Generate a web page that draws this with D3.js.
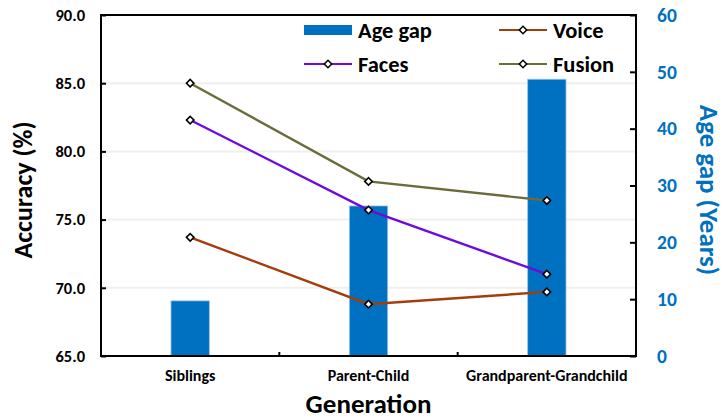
<!DOCTYPE html>
<html lang="en">
<head>
  <meta charset="UTF-8" />
  <title>Accuracy and age gap by generation</title>
  <script src="https://d3js.org/d3.v7.min.js"></script>
  <style>
    body {
      margin: 0;
      padding: 0;
      background: #fff;
      font-family: Calibri, Carlito, Lato, sans-serif;
    }
    svg text {
      font-weight: bold;
      font-family: Calibri, Carlito, Lato, sans-serif;
    }
  </style>
</head>
<body>
  <div id="chart"></div>

  <script>
    const generations = ["Siblings", "Parent-Child", "Grandparent-Grandchild"];
    const ageGap = [9.7, 26.4, 48.7];
    const voice = [73.7, 68.8, 69.7];
    const faces = [82.3, 75.7, 71.0];
    const fusion = [85.0, 77.8, 76.4];
    const accTicks = [65, 70, 75, 80, 85, 90];
    const gapTicks = [0, 10, 20, 30, 40, 50, 60];

    const lineSeries = [
      { name: "Voice", values: voice, color: "#A33E0A" },
      { name: "Faces", values: faces, color: "#6F0AD8" },
      { name: "Fusion", values: fusion, color: "#6B6B3B" },
    ];

    const W = 727, H = 420;
    const margin = { top: 15, right: 91, bottom: 64, left: 101 };
    const width = W - margin.left - margin.right;
    const height = H - margin.top - margin.bottom;
    const blue = "#0070C0";

    const svg = d3
      .select("#chart")
      .append("svg")
      .attr("width", W)
      .attr("height", H);

    const g = svg.append("g").attr("transform", `translate(${margin.left},${margin.top})`);

    const x = d3.scaleBand().domain(generations).range([0, width]);
    const y = d3.scaleLinear().domain([65, 90]).range([height, 0]);
    const y2 = d3.scaleLinear().domain([0, 60]).range([height, 0]);

    // grid lines
    g.append("g")
      .selectAll("line")
      .data(accTicks.filter((t) => t > 65 && t < 90))
      .enter()
      .append("line")
      .attr("x1", 1)
      .attr("x2", width)
      .attr("y1", (d) => y(d))
      .attr("y2", (d) => y(d))
      .attr("stroke", "#EFEFEF")
      .attr("stroke-width", 2);

    // legend background covers grid
    g.append("rect")
      .attr("x", 2)
      .attr("y", 2)
      .attr("width", width - 4)
      .attr("height", 64)
      .attr("fill", "#fff");

    // bars
    const barW = x.bandwidth() * 0.215;
    g.selectAll(".bar")
      .data(generations)
      .enter()
      .append("rect")
      .attr("class", "bar")
      .attr("x", (d) => x(d) + x.bandwidth() / 2 - barW / 2)
      .attr("width", barW)
      .attr("y", (d, i) => y2(ageGap[i]))
      .attr("height", (d, i) => height - y2(ageGap[i]))
      .attr("fill", blue)
      .attr("stroke", "#9DC3E6")
      .attr("stroke-width", 0.8);

    // lines
    const line = d3
      .line()
      .x((d, i) => x(generations[i]) + x.bandwidth() / 2)
      .y((d) => y(d));

    lineSeries.forEach((s) => {
      g.append("path")
        .datum(s.values)
        .attr("fill", "none")
        .attr("stroke", s.color)
        .attr("stroke-width", 2.4)
        .attr("d", line);
    });

    // square turned 45 degrees, like the Excel diamond marker
    const diamond = d3.symbol().type(d3.symbolSquare).size(28);
    lineSeries.forEach((s) => {
      g.selectAll(null)
        .data(s.values)
        .enter()
        .append("path")
        .attr("d", diamond)
        .attr("transform", (d, i) => `translate(${x(generations[i]) + x.bandwidth() / 2},${y(d)}) rotate(45)`)
        .attr("fill", "#fff")
        .attr("stroke", "#000")
        .attr("stroke-width", 1.6);
    });

    // frame
    g.append("rect")
      .attr("width", width)
      .attr("height", height)
      .attr("fill", "none")
      .attr("stroke", "#000")
      .attr("stroke-width", 2);

    // left axis
    const axL = g.append("g").call(
      d3.axisLeft(y).tickValues(accTicks).tickSize(-5).tickPadding(16).tickFormat(d3.format(".1f"))
    );
    axL.select(".domain").remove();
    axL.selectAll("line").attr("stroke", "#000").attr("stroke-width", 2);
    axL.selectAll("text").attr("font-size", 16.5).attr("fill", "#000").attr("font-family", null);

    // right axis
    const axR = g.append("g")
      .attr("transform", `translate(${width},0)`)
      .call(d3.axisRight(y2).tickValues(gapTicks).tickSize(-6).tickPadding(21));
    axR.select(".domain").remove();
    axR.selectAll("line").attr("stroke", "#000").attr("stroke-width", 2);
    axR.selectAll("text").attr("font-size", 19.5).attr("fill", blue).attr("font-family", null);

    // bottom axis
    const axB = g.append("g")
      .attr("transform", `translate(0,${height})`)
      .call(d3.axisBottom(x).tickSize(0).tickPadding(14));
    axB.select(".domain").remove();
    axB.selectAll("text").attr("font-size", 16).attr("fill", "#000").attr("font-family", null);
    g.append("g")
      .selectAll("line")
      .data(generations.slice(1))
      .enter()
      .append("line")
      .attr("x1", (d) => x(d))
      .attr("x2", (d) => x(d))
      .attr("y1", height)
      .attr("y2", height - 4)
      .attr("stroke", "#000")
      .attr("stroke-width", 2);

    // axis titles
    svg.append("text")
      .attr("transform", `translate(32,190) rotate(-90)`)
      .attr("text-anchor", "middle")
      .attr("font-size", 26)
      .attr("fill", "#000")
      .text("Accuracy (%)");

    svg.append("text")
      .attr("transform", `translate(700,190) rotate(90)`)
      .attr("text-anchor", "middle")
      .attr("font-size", 27)
      .attr("fill", blue)
      .text("Age gap (Years)");

    svg.append("text")
      .attr("x", margin.left + width / 2)
      .attr("y", 413)
      .attr("text-anchor", "middle")
      .attr("font-size", 27)
      .attr("fill", "#000")
      .text("Generation");

    // legend
    const legendItems = [
      { name: "Age gap", type: "bar", color: blue, lx: 203, ly: 15 },
      { name: "Voice", type: "line", color: lineSeries[0].color, lx: 398, ly: 15 },
      { name: "Faces", type: "line", color: lineSeries[1].color, lx: 203, ly: 49 },
      { name: "Fusion", type: "line", color: lineSeries[2].color, lx: 398, ly: 49 },
    ];
    const legend = g.append("g");
    legendItems.forEach((it) => {
      const li = legend.append("g").attr("transform", `translate(${it.lx},${it.ly})`);
      if (it.type === "bar") {
        li.append("rect")
          .attr("x", 0)
          .attr("y", -5)
          .attr("width", 48)
          .attr("height", 10)
          .attr("fill", it.color);
      } else {
        li.append("line")
          .attr("x1", 0)
          .attr("x2", 48)
          .attr("stroke", it.color)
          .attr("stroke-width", 2);
        li.append("path")
          .attr("d", diamond)
          .attr("transform", "translate(24,0) rotate(45)")
          .attr("fill", "#fff")
          .attr("stroke", "#000")
          .attr("stroke-width", 1.5);
      }
      li.append("text")
        .attr("x", 54)
        .attr("y", 0)
        .attr("dy", "0.35em")
        .attr("font-size", 22.5)
        .attr("fill", "#000")
        .text(it.name);
    });
  </script>
</body>
</html>
